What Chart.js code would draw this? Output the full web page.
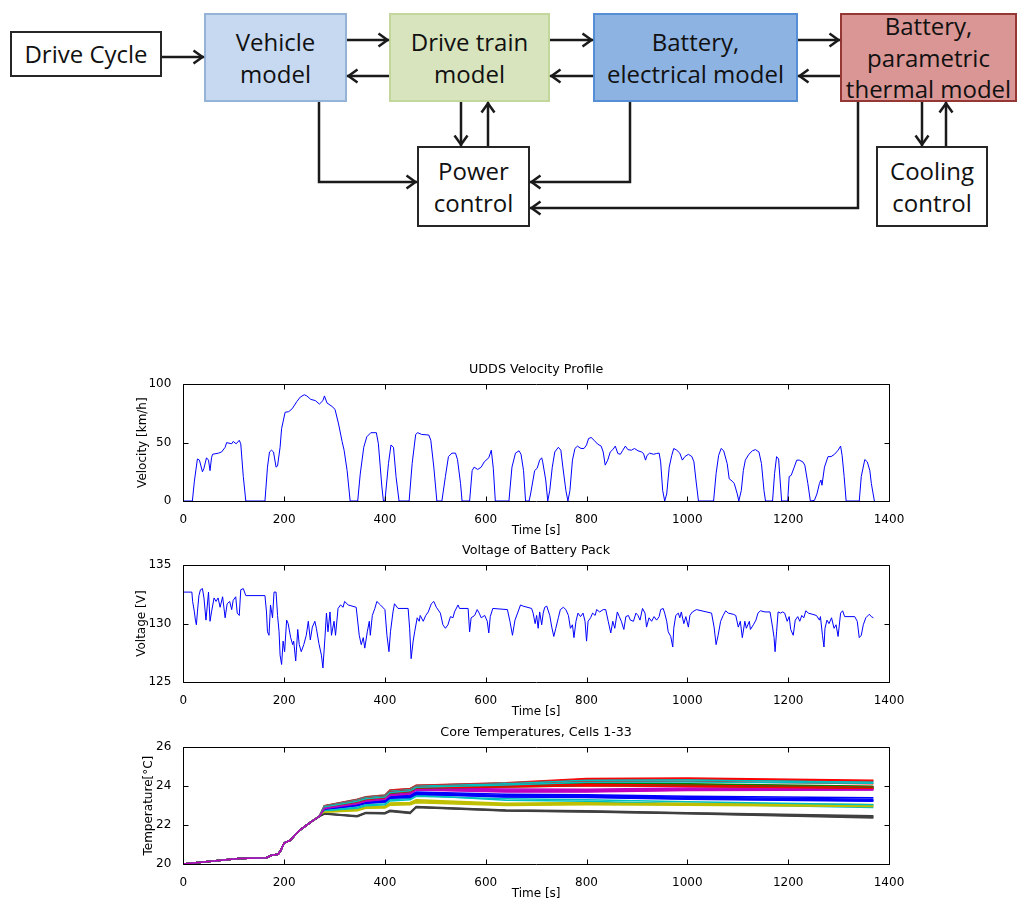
<!DOCTYPE html>
<html>
<head>
<meta charset="utf-8">
<title>Battery pack model - UDDS drive cycle</title>
<script src="https://cdn.jsdelivr.net/npm/chart.js@4.4.1/dist/chart.umd.min.js"></script>
<style>
  html, body { margin: 0; padding: 0; background: #fff; overflow: hidden; }
  #page { position: relative; width: 1017px; height: 902px; overflow: hidden; }
  .blk {
    position: absolute; box-sizing: border-box;
    display: flex; align-items: center; justify-content: center; text-align: center;
    font-family: "Open Sans", sans-serif; font-size: 24px; line-height: 32px; color: #111;
    white-space: nowrap;
  }
  .plain { background: #fff; border: 2px solid #262626; }
  #links { position: absolute; left: 0; top: 0; }
  #links polyline { fill: none; stroke: #1a1a1a; stroke-width: 2.5; marker-end: url(#head); }
  canvas { position: absolute; }
</style>
</head>
<body>
<div id="page">
  <!-- block diagram -->
  <div class="blk plain" style="left:10px;top:31px;width:152px;height:46px">Drive Cycle</div>
  <div class="blk" style="left:204px;top:13px;width:143px;height:89px;background:#c6d9f1;border:2px solid #95b3d7">Vehicle<br>model</div>
  <div class="blk" style="left:389px;top:13px;width:161px;height:89px;background:#d7e4bd;border:2px solid #c3d69b">Drive train<br>model</div>
  <div class="blk" style="left:593px;top:13px;width:205px;height:89px;background:#8db3e2;border:2px solid #558ed5">Battery,<br>electrical model</div>
  <div class="blk" style="left:840px;top:13px;width:177px;height:89px;background:#d99694;border:2px solid #953735;line-height:31.5px">Battery,<br>parametric<br>thermal model</div>
  <div class="blk plain" style="left:417px;top:146px;width:113px;height:81px">Power<br>control</div>
  <div class="blk plain" style="left:876px;top:146px;width:112px;height:81px">Cooling<br>control</div>

  <svg id="links" width="1017" height="240">
    <defs>
      <marker id="head" markerUnits="userSpaceOnUse" markerWidth="16" markerHeight="18" refX="12.5" refY="8" orient="auto">
        <path d="M2,1.5 L11,8 L2,14.5" fill="none" stroke="#1a1a1a" stroke-width="2.5"/>
      </marker>
    </defs>
    <polyline points="162,57 204,57"/>
    <polyline points="347,40 389,40"/>
    <polyline points="389,76 347,76"/>
    <polyline points="550,40 593,40"/>
    <polyline points="593,76 550,76"/>
    <polyline points="798,40 840,40"/>
    <polyline points="840,76 798,76"/>
    <polyline points="319,102 319,182 417,182"/>
    <polyline points="461,102 461,146"/>
    <polyline points="488,146 488,102"/>
    <polyline points="630,102 630,182 530,182"/>
    <polyline points="858,102 858,208 530,208"/>
    <polyline points="922,102 922,146"/>
    <polyline points="946,146 946,102"/>
  </svg>

  <canvas id="velocityChart" width="780" height="183" style="left:130px;top:358px"></canvas>
  <canvas id="voltageChart" width="780" height="183" style="left:130px;top:539px"></canvas>
  <canvas id="tempChart" width="780" height="183" style="left:130px;top:721px"></canvas>
</div>

<script>
// UDDS velocity profile [s], [km/h]
var VEL_TIME = [
  0, 18, 22, 28, 32, 38, 41, 46, 50, 53, 56, 58, 70, 76, 83, 86, 96, 99, 105, 111, 114, 119, 124,
  162, 167, 171, 175, 179, 184, 187, 192, 195, 202, 209, 216, 225, 232, 240, 245, 253, 262, 270, 277, 280, 285, 295, 301, 308, 315, 319, 325, 331,
  346, 351, 358, 364, 372, 383, 387, 394, 397,
  400, 407, 412, 417, 422, 428,
  448, 454, 461, 465, 473, 487, 491, 497, 503,
  513, 520, 526, 533, 540, 544, 550, 553,
  568, 573, 577, 584, 591, 597, 606, 611, 615, 619,
  646, 652, 659, 666, 670, 675, 679,
  686, 689, 697, 702, 707, 711, 713, 719, 723,
  727, 732, 737, 744, 749, 753, 759, 763,
  767, 772, 777, 782, 789, 795, 800, 804, 809, 815, 822, 829, 833, 837, 842, 847, 852, 857, 862, 867,
  872, 877, 882, 889, 895, 902, 909, 913, 917, 920, 925, 933, 939, 944, 947, 951, 955,
  959, 964, 969, 973, 979, 985, 990, 995, 1002, 1009, 1013, 1017, 1022,
  1052, 1057, 1062, 1067, 1072, 1079, 1083, 1089, 1093, 1099, 1102,
  1107, 1111, 1115, 1122, 1129, 1135, 1142, 1147, 1152, 1155,
  1169, 1173, 1177, 1181, 1184, 1187,
  1199, 1202, 1206, 1212, 1217, 1222, 1229, 1233, 1239, 1244,
  1252, 1257, 1262, 1265, 1267, 1272, 1279, 1285, 1292, 1299, 1304, 1307, 1311, 1315,
  1341, 1345, 1352, 1357, 1362, 1365, 1371
];
var VEL_KMH = [
  0, 0, 17, 36, 35, 25, 28, 37, 35, 26, 37, 40, 41, 42, 46, 50, 49, 51, 49, 52, 49, 21, 0,
  0, 29, 42, 43.5, 42, 29, 30, 46, 62, 76, 76.5, 79, 85, 89, 91, 90, 87, 86, 83, 86, 90, 84, 81, 78.5, 66, 51, 43.5, 26, 0,
  0, 23, 46, 55, 58.5, 58.5, 49, 12, 0,
  0, 32, 48, 46, 21, 0,
  0, 32, 57, 58.5, 57, 56.5, 52, 29, 0,
  0, 21, 38, 41, 41, 35.5, 15, 0,
  0, 26, 29, 27, 29, 33.5, 37, 43.5, 28, 0,
  0, 29, 41, 43, 40, 26, 0,
  0, 6, 26, 28, 35, 37, 33.5, 18, 0,
  9, 29, 42, 46, 43.5, 29, 9, 0,
  9, 35, 45, 47, 45, 45, 48, 53.5, 54.4, 52, 48.7, 47, 42, 30.7, 35, 42, 44, 47, 40.7, 40,
  43.5, 47, 44, 43.5, 45, 43, 42, 40.7, 35, 39, 41, 40, 40.7, 41, 33.5, 9, 0,
  6, 29, 39, 45, 43.5, 41, 35, 38, 40, 38, 33.5, 18, 0,
  0, 23.5, 39, 45, 43, 32, 19, 17, 15, 6, 0,
  9, 26, 35, 40, 43, 44, 42, 32, 9, 0,
  0, 23.5, 38, 36, 18, 0,
  0, 21, 22, 29, 35, 35, 33.5, 30.7, 15, 0,
  0.5, 6, 15, 18, 13.5, 29, 38, 38, 40, 43.5, 47, 39, 21, 0,
  0, 21, 35.5, 33.5, 26, 15, 0
];

// battery pack voltage [s], [V]
var VOLT_TIME = [
  0, 17, 18.5, 22, 24, 26, 28, 31, 34, 38,
  41, 45, 50, 53, 56, 61, 65, 69, 73, 78,
  83, 87, 92, 96, 99, 104, 107, 111, 114, 119,
  124, 162, 165, 167, 170, 173, 177, 180, 184, 187,
  190, 192, 195, 198, 201, 205, 208, 213, 217, 219,
  223, 227, 230, 234, 239, 244, 248, 252, 256, 261,
  264, 269, 274, 277, 281, 284, 287, 291, 294, 299,
  302, 307, 312, 317, 320, 327, 343, 349, 353, 357,
  360, 365, 369, 371, 375, 380, 384, 391, 400, 404,
  408, 411, 416, 419, 426, 446, 449, 452, 456, 459,
  464, 468, 470, 476, 481, 486, 492, 497, 502, 510,
  515, 520, 525, 530, 535, 538, 545, 548, 565, 568,
  571, 578, 583, 587, 591, 598, 603, 606, 609, 614,
  643, 648, 653, 658, 664, 669, 674, 691, 694, 698,
  701, 704, 707, 711, 714, 717, 721, 727, 731, 735,
  739, 744, 748, 754, 759, 764, 768, 772, 775, 779,
  783, 788, 793, 797, 800, 803, 808, 812, 817, 820,
  826, 833, 838, 843, 848, 852, 856, 861, 865, 869,
  874, 878, 883, 887, 893, 898, 902, 906, 911, 916,
  919, 924, 929, 934, 939, 944, 947, 952, 955, 959,
  962, 967, 971, 973, 977, 982, 985, 988, 993, 997,
  1002, 1005, 1010, 1018, 1048, 1053, 1057, 1061, 1066, 1071,
  1076, 1081, 1091, 1096, 1101, 1105, 1109, 1114, 1117, 1123,
  1125, 1131, 1136, 1140, 1145, 1154, 1164, 1169, 1172, 1174,
  1177, 1180, 1185, 1189, 1193, 1198, 1202, 1205, 1210, 1214,
  1219, 1223, 1227, 1231, 1235, 1240, 1256, 1262, 1264, 1268,
  1271, 1273, 1277, 1281, 1286, 1291, 1295, 1299, 1304, 1308,
  1312, 1332, 1337, 1341, 1345, 1349, 1354, 1361, 1365, 1369
];
var VOLT_V = [
  132.7, 132.7, 131.9, 131.0, 130.3, 129.9, 131.0, 132.4, 132.9, 133.0,
  132.2, 130.3, 132.7, 130.2, 131.0, 132.2, 131.9, 132.2, 131.4, 132.3,
  130.5, 131.7, 131.9, 131.2, 132.0, 132.3, 130.9, 130.7, 132.9, 133.0,
  132.4, 132.4, 131.0, 129.3, 129.0, 131.6, 130.5, 132.7, 132.7, 130.7,
  129.3, 127.3, 126.5, 128.5, 127.6, 130.3, 130.0, 128.8, 128.2, 128.5,
  126.8, 129.5, 128.2, 127.6, 128.2, 129.0, 130.2, 128.6, 129.7, 130.2,
  129.6, 128.3, 127.3, 126.2, 128.8, 130.9, 129.3, 131.0, 129.0, 130.2,
  129.0, 131.3, 131.6, 131.4, 131.9, 131.6, 131.4, 129.0, 128.2, 128.8,
  127.9, 129.3, 130.2, 129.0, 130.7, 131.3, 131.9, 131.6, 131.2, 129.0,
  127.6, 129.3, 131.0, 131.7, 131.3, 131.3, 129.6, 127.0, 128.5, 129.3,
  130.5, 130.2, 130.7, 130.2, 130.7, 131.0, 131.7, 131.9, 131.4, 130.9,
  129.9, 129.6, 129.9, 130.6, 130.5, 131.0, 131.6, 131.3, 131.3, 129.3,
  130.5, 130.7, 131.2, 130.9, 130.5, 130.7, 130.2, 129.2, 130.6, 131.3,
  131.2, 130.2, 129.0, 130.3, 131.0, 131.6, 131.5, 131.3, 130.9, 130.0,
  130.7, 129.6, 131.0, 129.9, 130.9, 131.4, 131.5, 130.7, 129.7, 128.9,
  129.6, 130.5, 131.2, 131.4, 131.2, 130.7, 129.6, 129.9, 128.8, 130.2,
  130.9, 130.6, 130.9, 130.2, 128.5, 130.2, 130.5, 130.9, 130.7, 131.2,
  131.0, 131.2, 131.2, 130.2, 129.2, 130.2, 129.6, 131.0, 130.6, 130.2,
  129.5, 130.6, 130.7, 130.3, 130.2, 130.9, 130.7, 130.3, 131.3, 130.9,
  129.7, 130.5, 130.2, 130.6, 130.3, 130.6, 131.2, 131.3, 130.9, 130.2,
  129.3, 128.9, 128.0, 129.6, 130.7, 130.9, 130.5, 131.0, 130.0, 130.6,
  129.7, 130.7, 131.0, 131.2, 130.9, 129.7, 128.2, 129.0, 130.2, 130.7,
  131.1, 130.9, 130.8, 130.7, 129.7, 130.2, 128.8, 130.2, 129.6, 130.2,
  129.5, 129.9, 130.3, 130.9, 131.1, 131.0, 131.0, 129.7, 128.8, 127.6,
  129.3, 131.0, 130.9, 131.0, 130.9, 130.2, 130.6, 129.5, 129.0, 130.3,
  130.6, 130.2, 130.7, 130.5, 131.1, 130.9, 130.7, 130.3, 130.6, 129.0,
  128.0, 129.6, 130.3, 130.0, 130.5, 129.6, 129.9, 128.9, 130.9, 131.1,
  130.6, 130.6, 130.2, 128.8, 129.0, 129.9, 130.5, 130.8, 130.6, 130.5
];

// core temperatures: common warm-up part, then one row per cell [°C]
var RISE_TIME = [0, 60, 110, 165, 175, 188, 193, 200, 212, 230, 250, 270];
var RISE_TEMP = [20.0, 20.15, 20.28, 20.32, 20.45, 20.5, 20.68, 21.08, 21.22, 21.72, 22.1, 22.45];
var CELL_TIME = [280, 345, 362, 400, 410, 450, 462, 640, 800, 1000, 1369];
var CORE_TEMPS = [
  [22.86, 23.08, 23.20, 23.28, 23.48, 23.54, 23.70, 23.58, 23.56, 23.48, 23.40], // 1
  [22.97, 23.28, 23.40, 23.50, 23.75, 23.82, 23.99, 24.08, 24.16, 24.12, 24.00],
  [23.00, 23.33, 23.45, 23.55, 23.80, 23.88, 24.05, 24.18, 24.40, 24.42, 24.30],
  [22.99, 23.31, 23.44, 23.53, 23.78, 23.86, 24.03, 24.16, 24.33, 24.36, 24.24],
  [22.91, 23.20, 23.32, 23.42, 23.65, 23.73, 23.90, 23.85, 23.84, 23.90, 23.90],
  [22.72, 22.82, 22.95, 22.98, 23.14, 23.16, 23.30, 23.12, 23.16, 23.12, 23.06],
  [22.60, 22.48, 22.65, 22.64, 22.76, 22.66, 22.95, 22.78, 22.73, 22.64, 22.48],
  [22.85, 23.05, 23.18, 23.25, 23.45, 23.50, 23.66, 23.52, 23.52, 23.43, 23.33], // 8
  [22.95, 23.25, 23.38, 23.48, 23.72, 23.80, 23.97, 24.05, 24.12, 24.08, 23.97],
  [22.98, 23.30, 23.43, 23.52, 23.78, 23.85, 24.03, 24.15, 24.36, 24.38, 24.27],
  [22.78, 22.92, 23.05, 23.10, 23.30, 23.36, 23.55, 23.28, 23.22, 23.08, 22.90],
  [22.89, 23.17, 23.29, 23.39, 23.61, 23.69, 23.87, 23.80, 23.80, 23.86, 23.86],
  [22.70, 22.79, 22.92, 22.95, 23.10, 23.12, 23.25, 23.08, 23.12, 23.10, 23.02],
  [22.59, 22.46, 22.63, 22.62, 22.74, 22.64, 22.93, 22.76, 22.71, 22.62, 22.44],
  [22.84, 23.03, 23.16, 23.23, 23.43, 23.48, 23.64, 23.50, 23.48, 23.38, 23.28], // 15
  [22.94, 23.23, 23.36, 23.46, 23.70, 23.78, 23.95, 24.03, 24.10, 24.06, 23.94],
  [22.96, 23.27, 23.40, 23.50, 23.75, 23.82, 24.00, 24.10, 24.26, 24.25, 24.12],
  [22.97, 23.28, 23.41, 23.50, 23.74, 23.82, 24.00, 24.12, 24.30, 24.32, 24.20],
  [22.88, 23.15, 23.27, 23.37, 23.59, 23.67, 23.85, 23.76, 23.76, 23.83, 23.84],
  [22.68, 22.76, 22.89, 22.92, 23.06, 23.08, 23.20, 23.04, 23.08, 23.06, 22.98],
  [22.58, 22.45, 22.62, 22.60, 22.72, 22.62, 22.92, 22.74, 22.69, 22.60, 22.40],
  [22.83, 23.01, 23.14, 23.20, 23.40, 23.45, 23.60, 23.46, 23.44, 23.35, 23.25], // 22
  [22.92, 23.21, 23.34, 23.44, 23.68, 23.76, 23.93, 24.00, 24.06, 24.03, 23.92],
  [22.94, 23.24, 23.36, 23.46, 23.70, 23.78, 23.96, 24.02, 24.10, 24.05, 23.95],
  [22.74, 22.86, 22.99, 23.04, 23.24, 23.30, 23.48, 23.35, 23.30, 23.20, 23.05],
  [22.86, 23.12, 23.24, 23.34, 23.55, 23.63, 23.82, 23.72, 23.72, 23.80, 23.82],
  [22.66, 22.73, 22.86, 22.88, 23.02, 23.04, 23.15, 23.00, 23.04, 23.02, 22.95],
  [22.57, 22.43, 22.60, 22.58, 22.70, 22.60, 22.90, 22.72, 22.67, 22.58, 22.37],
  [22.82, 23.00, 23.12, 23.18, 23.38, 23.42, 23.58, 23.44, 23.42, 23.33, 23.22], // 29
  [22.90, 23.18, 23.31, 23.41, 23.64, 23.72, 23.90, 23.96, 24.02, 24.00, 23.90],
  [22.92, 23.20, 23.32, 23.42, 23.66, 23.74, 23.92, 23.96, 24.02, 23.98, 23.88],
  [22.93, 23.22, 23.35, 23.44, 23.68, 23.76, 23.94, 24.06, 24.20, 24.22, 24.15],
  [22.85, 23.10, 23.22, 23.32, 23.52, 23.60, 23.80, 23.70, 23.70, 23.78, 23.80]  // 33
];

// old matlab line colour order
var CELL_COLORS = ['#0000ff', '#008000', '#ff0000', '#00bfbf', '#bf00bf', '#bfbf00', '#404040'];

var FONT = { family: '"DejaVu Sans", sans-serif', size: 12, weight: 'normal' };
var TITLE_FONT = { family: '"DejaVu Sans", sans-serif', size: 12.7, weight: 'normal' };

function toPoints(xs, ys) {
    var pts = [];
    for (var i = 0; i < xs.length; i++) pts.push({ x: xs[i], y: ys[i] });
    return pts;
}

// box round the axes with the small inward ticks
var matlabBox = {
    id: 'matlabBox',
    afterDatasetsDraw: function(chart) {
        var ctx = chart.ctx, a = chart.chartArea;
        var xs = chart.scales.x, ys = chart.scales.y;
        var l = Math.round(a.left) + 0.5, r = Math.round(a.right) + 0.5;
        var t = Math.round(a.top) + 0.5, b = Math.round(a.bottom) + 0.5;
        ctx.save();
        ctx.strokeStyle = '#000';
        ctx.lineWidth = 1;
        ctx.beginPath();
        xs.ticks.forEach(function(tk) {
            var px = Math.round(xs.getPixelForValue(tk.value)) + 0.5;
            ctx.moveTo(px, b); ctx.lineTo(px, b - 5);
            ctx.moveTo(px, t); ctx.lineTo(px, t + 5);
        });
        ys.ticks.forEach(function(tk) {
            var py = Math.round(ys.getPixelForValue(tk.value)) + 0.5;
            ctx.moveTo(l, py); ctx.lineTo(l + 5, py);
            ctx.moveTo(r, py); ctx.lineTo(r - 5, py);
        });
        ctx.rect(l, t, r - l, b - t);
        ctx.stroke();
        ctx.restore();
    }
};

function makeChart(id, datasets, title, yTitle, yTitlePad, yMin, yMax, yStep) {
    return new Chart(document.getElementById(id).getContext('2d'), {
        type: 'line',
        data: { datasets: datasets },
        options: {
            responsive: false,
            animation: false,
            devicePixelRatio: 1,
            events: [],
            layout: { padding: { left: 0, right: 21, top: 0, bottom: 0 } },
            elements: { point: { radius: 0 }, line: { tension: 0 } },
            plugins: {
                legend: { display: false },
                tooltip: { enabled: false },
                title: {
                    display: true, text: title, color: '#000', font: TITLE_FONT,
                    fullSize: false,   // centred over the axes, like matlab
                    padding: { top: 4, bottom: 7 }
                }
            },
            scales: {
                x: {
                    type: 'linear', min: 0, max: 1400,
                    grid: { display: false }, border: { display: false },
                    ticks: {
                        stepSize: 200, color: '#000', font: FONT, padding: 3.5, maxRotation: 0,
                        callback: function(v) { return String(v); }
                    },
                    title: { display: true, text: 'Time [s]', color: '#000', font: FONT, padding: { top: 0, bottom: 3.4 } },
                    afterFit: function(s) { s.height = 40; }
                },
                y: {
                    type: 'linear', min: yMin, max: yMax,
                    grid: { display: false }, border: { display: false },
                    ticks: {
                        stepSize: yStep, color: '#000', font: FONT, padding: 4,
                        callback: function(v) { return String(v); }
                    },
                    title: { display: true, text: yTitle, color: '#000', font: FONT, padding: { top: yTitlePad, bottom: 0 } },
                    afterFit: function(s) { s.width = 53.3; }
                }
            }
        },
        plugins: [matlabBox]
    });
}

document.addEventListener("DOMContentLoaded", function() {
    makeChart('velocityChart', [{
        label: 'Velocity',
        data: toPoints(VEL_TIME, VEL_KMH),
        borderColor: '#0000ff',
        borderWidth: 1
    }], 'UDDS Velocity Profile', 'Velocity [km/h]', 5.5, 0, 100, 50);

    makeChart('voltageChart', [{
        label: 'Voltage',
        data: toPoints(VOLT_TIME, VOLT_V),
        borderColor: '#0000ff',
        borderWidth: 1
    }], 'Voltage of Battery Pack', 'Voltage [V]', 4.5, 125, 135, 5);

    var tempSets = [];
    CORE_TEMPS.forEach(function(row, i) {
        var pts = toPoints(RISE_TIME, RISE_TEMP).concat(toPoints(CELL_TIME, row));
        tempSets.push({
            label: 'Cell ' + (i + 1),
            data: pts,
            borderColor: CELL_COLORS[i % CELL_COLORS.length],
            borderWidth: 1.5,
            order: CORE_TEMPS.length - i   // last cell on top, as in matlab
        });
    });
    makeChart('tempChart', tempSets, 'Core Temperatures, Cells 1-33', 'Temperature[°C]', 11.8, 20, 26, 2);
});
</script>
</body>
</html>
